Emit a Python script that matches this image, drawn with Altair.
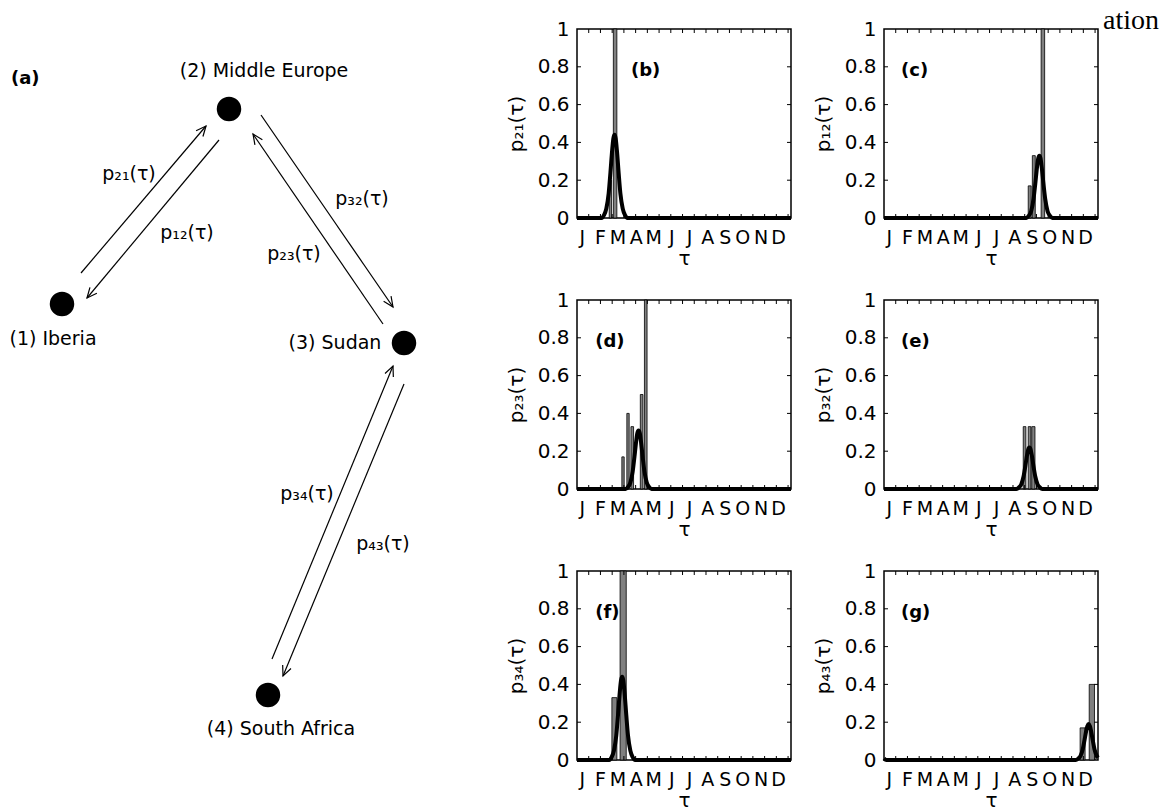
import altair as alt
import pandas as pd

# ---------------- axis / tick data ----------------
MONTH_LETTERS = ["J", "F", "M", "A", "M", "J", "J", "A", "S", "O", "N", "D"]
MONTH_TICK_DAYS = [8, 39, 69, 100, 130, 161, 191, 222, 252, 282, 313, 343]
INNER_X_TICKS = [20, 40, 60, 80, 100, 120, 140, 160, 180, 200, 220, 240, 260, 280, 300, 320, 340, 360]
INNER_Y_TICKS = [0.2, 0.4, 0.6, 0.8]
Y_TICKS = [0, 0.2, 0.4, 0.6, 0.8, 1]

# ---------------- panels (b)-(g) ----------------
panel_titles = ["p₂₁(τ)", "p₁₂(τ)", "p₂₃(τ)", "p₃₂(τ)", "p₃₄(τ)", "p₄₃(τ)"]
panel_letters = ["(b)", "(c)", "(d)", "(e)", "(f)", "(g)"]
panel_letter_day = [92, 29, 31, 29, 31, 29]
panel_letter_value = [0.78, 0.78, 0.78, 0.78, 0.78, 0.78]

# histogram bars (start day, end day, height)
bars_b_start = [55, 62]
bars_b_end = [59, 68]
bars_b_height = [0.2, 1.0]

bars_c_start = [246, 253, 268]
bars_c_end = [251, 258, 274]
bars_c_height = [0.17, 0.33, 1.0]

bars_d_start = [76.5, 85, 92, 108, 115]
bars_d_end = [80.5, 89, 96.5, 112.5, 119.5]
bars_d_height = [0.17, 0.40, 0.33, 0.5, 1.0]

bars_e_start = [237.5, 246, 252]
bars_e_end = [242, 250.5, 257.5]
bars_e_height = [0.33, 0.33, 0.33]

bars_f_start = [59.5, 73.5]
bars_f_end = [68, 84]
bars_f_height = [0.33, 1.0]

bars_g_start = [334.5, 350]
bars_g_end = [343, 359]
bars_g_height = [0.17, 0.40]

# fitted curves (day, value)
curve_b_day = [0, 42, 46, 50, 54, 57, 60, 62, 64, 66, 68, 71, 74, 78, 82, 86, 365]
curve_b_value = [0, 0, 0.015, 0.05, 0.13, 0.24, 0.36, 0.42, 0.44, 0.42, 0.36, 0.24, 0.13, 0.05, 0.015, 0, 0]

curve_c_day = [0, 243, 247, 251, 255, 258, 261, 263, 265, 267, 269, 272, 275, 279, 283, 287, 365]
curve_c_value = [0, 0, 0.012, 0.036, 0.10, 0.18, 0.27, 0.315, 0.33, 0.315, 0.27, 0.18, 0.10, 0.036, 0.012, 0, 0]

curve_d_day = [0, 83, 87, 91, 95, 98, 101, 103, 105, 107, 109, 112, 115, 119, 123, 127, 365]
curve_d_value = [0, 0, 0.011, 0.034, 0.093, 0.17, 0.254, 0.296, 0.31, 0.296, 0.254, 0.17, 0.093, 0.034, 0.011, 0, 0]

curve_e_day = [0, 226, 230, 234, 238, 241, 244, 246, 248, 250, 252, 255, 258, 262, 266, 270, 365]
curve_e_value = [0, 0, 0.008, 0.024, 0.066, 0.12, 0.18, 0.21, 0.22, 0.21, 0.18, 0.12, 0.066, 0.024, 0.008, 0, 0]

curve_f_day = [0, 55, 59, 63, 67, 70, 73, 75, 77, 79, 81, 84, 87, 91, 95, 99, 365]
curve_f_value = [0, 0, 0.015, 0.05, 0.13, 0.24, 0.36, 0.42, 0.44, 0.42, 0.36, 0.24, 0.13, 0.05, 0.015, 0, 0]

curve_g_day = [0, 4, 327, 331, 335, 339, 342, 345, 347, 349, 351, 353, 356, 359, 363, 365]
curve_g_value = [0.008, 0, 0, 0.007, 0.021, 0.057, 0.105, 0.156, 0.18, 0.19, 0.18, 0.156, 0.105, 0.057, 0.021, 0.012]

BARS = [
    (bars_b_start, bars_b_end, bars_b_height),
    (bars_c_start, bars_c_end, bars_c_height),
    (bars_d_start, bars_d_end, bars_d_height),
    (bars_e_start, bars_e_end, bars_e_height),
    (bars_f_start, bars_f_end, bars_f_height),
    (bars_g_start, bars_g_end, bars_g_height),
]
CURVES = [
    (curve_b_day, curve_b_value),
    (curve_c_day, curve_c_value),
    (curve_d_day, curve_d_value),
    (curve_e_day, curve_e_value),
    (curve_f_day, curve_f_value),
    (curve_g_day, curve_g_value),
]

# ---------------- diagram (a) ----------------
node_x = [61, 228, 403, 267]
node_y = [303, 108, 342, 694]
node_label = ["(1) Iberia", "(2) Middle Europe", "(3) Sudan", "(4) South Africa"]
node_label_x = [52, 263, 334, 280]
node_label_y = [338, 70, 342, 728]

edge_x1 = [80, 218, 260, 382, 271, 403]
edge_y1 = [272, 139, 114, 323, 658, 383]
edge_x2 = [205, 86, 392, 252, 392, 282]
edge_y2 = [125, 297, 306, 133, 365, 675]

edge_label = ["p₂₁(τ)", "p₁₂(τ)", "p₃₂(τ)", "p₂₃(τ)", "p₃₄(τ)", "p₄₃(τ)"]
edge_label_x = [128, 186, 361, 293, 306, 382]
edge_label_y = [173, 232, 198, 253, 493, 543]

diagram_tag = "(a)"
diagram_tag_x = 10
diagram_tag_y = 78

top_fragment = "ation"

# ---------------- styling ----------------
SANS = "DejaVu Sans"
PW, PH = 214, 189
DW, DH = 440, 731

letters_js = "[" + ",".join("'" + m + "'" for m in MONTH_LETTERS) + "]"
days_js = "[" + ",".join(str(d) for d in MONTH_TICK_DAYS) + "]"
month_label_expr = letters_js + "[indexof(" + days_js + ", datum.value)]"

xscale = alt.Scale(domain=[0, 365], nice=False, zero=False)
yscale = alt.Scale(domain=[0, 1], nice=False)


def x_axis():
    return alt.Axis(values=MONTH_TICK_DAYS, tickCount=len(MONTH_TICK_DAYS),
                    labelExpr=month_label_expr, title="τ",
                    labelPadding=10, titlePadding=1, labelFontSize=19, titleFontSize=20,
                    labelFlush=False, labelOverlap=False, labelSeparation=0)


def y_axis(title):
    return alt.Axis(values=Y_TICKS, tickCount=len(Y_TICKS), format="~g", title=title, labelPadding=8,
                    labelFontSize=20, titleFontSize=20, minExtent=43, maxExtent=43,
                    titlePadding=8, labelFlush=False, labelOverlap=False, labelSeparation=0)


def make_panel(i):
    s, e, h = BARS[i]
    bars = pd.DataFrame({"start": s, "end": e, "h": h})
    d, v = CURVES[i]
    curve = pd.DataFrame({"day": d, "p": v})
    title = panel_titles[i]

    X = lambda f: alt.X(f, type="quantitative", scale=xscale, axis=x_axis())
    Y = lambda f: alt.Y(f, type="quantitative", scale=yscale, axis=y_axis(title))

    bar_layer = alt.Chart(bars).mark_rect(fill="#808080", stroke="black", strokeWidth=0.8).encode(
        x=X("start"), x2="end", y=Y("h"), y2=alt.datum(0)
    )
    curve_layer = alt.Chart(curve).mark_line(color="black", strokeWidth=4, interpolate="monotone").encode(
        x=X("day"), y=Y("p")
    )
    xt = pd.DataFrame({"t": INNER_X_TICKS})
    yt = pd.DataFrame({"t": INNER_Y_TICKS})
    tick_style = dict(color="black", strokeWidth=1)
    ticks = [
        alt.Chart(xt).mark_rule(**tick_style).encode(x=X("t"), y=alt.value(0), y2=alt.value(4)),
        alt.Chart(xt).mark_rule(**tick_style).encode(x=X("t"), y=alt.value(PH), y2=alt.value(PH - 4)),
        alt.Chart(yt).mark_rule(**tick_style).encode(y=Y("t"), x=alt.value(0), x2=alt.value(4)),
        alt.Chart(yt).mark_rule(**tick_style).encode(y=Y("t"), x=alt.value(PW), x2=alt.value(PW - 4)),
    ]
    letter = alt.Chart(pd.DataFrame({"k": [0]})).mark_text(
        font=SANS, fontSize=18, fontWeight="bold", align="left", baseline="middle", color="black"
    ).encode(x=alt.datum(panel_letter_day[i]), y=alt.datum(panel_letter_value[i]),
             text=alt.value(panel_letters[i]))
    layers = [bar_layer, curve_layer] + ticks + [letter]
    if i == 1:
        frag = alt.Chart(pd.DataFrame({"k": [0]})).mark_text(
            font="Liberation Serif", fontSize=28, align="left", baseline="alphabetic", color="black"
        ).encode(x=alt.value(219), y=alt.value(0), text=alt.value(top_fragment))
        layers.append(frag)
    return alt.layer(*layers).properties(width=PW, height=PH)


panels = [make_panel(i) for i in range(6)]
grid = alt.concat(*panels, columns=2, spacing={"row": 82, "column": 93}, bounds="flush")

# ---- diagram ----
dxs = alt.Scale(domain=[0, DW], nice=False, zero=False)
dys = alt.Scale(domain=[28, 28 + DH], nice=False, zero=False, reverse=True)
DX = lambda f: alt.X(f, type="quantitative", scale=dxs, axis=None)
DY = lambda f: alt.Y(f, type="quantitative", scale=dys, axis=None)

nodes = pd.DataFrame({"x": node_x, "y": node_y, "label": node_label,
                      "lx": node_label_x, "ly": node_label_y})
edges = pd.DataFrame({"x1": edge_x1, "y1": edge_y1, "x2": edge_x2, "y2": edge_y2,
                      "label": edge_label, "lx": edge_label_x, "ly": edge_label_y})

edge_lines = alt.Chart(edges).mark_rule(color="black", strokeWidth=1.2).encode(
    x=DX("x1"), y=DY("y1"), x2="x2", y2="y2")
arrow_heads = alt.Chart(edges).transform_calculate(
    ang="(atan2(datum.y2 - datum.y1, datum.x2 - datum.x1) * 180 / PI + 360) % 360"
).mark_point(shape="M -1 -0.45 L 0 0 L -1 0.45", filled=False, size=400, color="black",
             strokeWidth=1.2, opacity=1).encode(
    x=DX("x2"), y=DY("y2"), angle=alt.Angle("ang:Q", scale=None))
edge_texts = alt.Chart(edges).mark_text(font=SANS, fontSize=19, color="black", baseline="middle").encode(
    x=DX("lx"), y=DY("ly"), text="label:N")
node_dots = alt.Chart(nodes).mark_circle(size=600, color="black", opacity=1).encode(
    x=DX("x"), y=DY("y"))
node_texts = alt.Chart(nodes).mark_text(font=SANS, fontSize=19, color="black", baseline="middle").encode(
    x=DX("lx"), y=DY("ly"), text="label:N")
tag = alt.Chart(pd.DataFrame({"k": [0]})).mark_text(
    font=SANS, fontSize=18, fontWeight="bold", align="left", baseline="middle", color="black"
).encode(x=alt.datum(diagram_tag_x, scale=dxs), y=alt.datum(diagram_tag_y, scale=dys),
         text=alt.value(diagram_tag))

diagram = alt.layer(edge_lines, arrow_heads, edge_texts, node_dots, node_texts, tag).properties(
    width=DW, height=DH, view=alt.ViewBackground(stroke="transparent"))

chart = alt.hconcat(diagram, grid, spacing=576 - DW, bounds="flush").properties(
    padding={"left": 0, "top": 6, "right": 0, "bottom": 0}
).configure(font=SANS).configure_view(stroke="black", strokeWidth=1.5).configure_axis(
    domain=False, ticks=False, grid=False, labelFont=SANS, labelColor="black",
    titleFont=SANS, titleColor="black", titleFontWeight="normal", labelOverlap=False
)

chart.save("out.html", embed_options={"renderer": "svg", "actions": False})
